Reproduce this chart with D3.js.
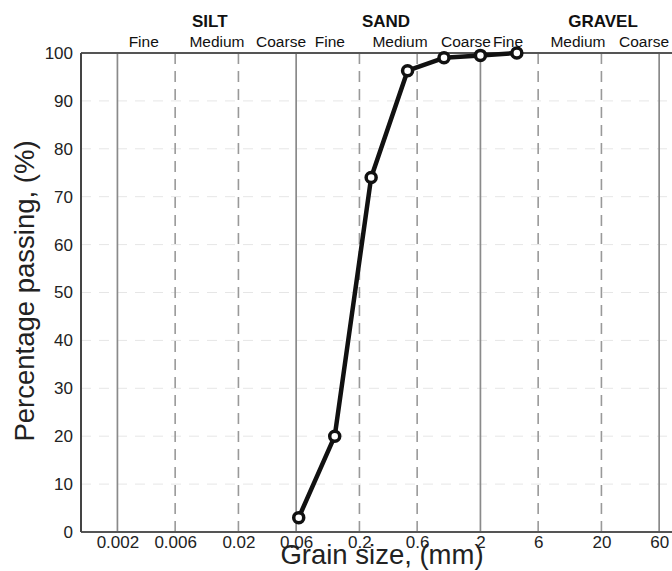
<!DOCTYPE html>
<html><head><meta charset="utf-8">
<script src="https://cdn.jsdelivr.net/npm/d3@7"></script>
<style>
html,body{margin:0;padding:0;background:#fff;}
svg{display:block;font-family:"Liberation Sans",Arial,Helvetica,sans-serif;}
</style></head>
<body>
<svg id="chart" width="672" height="571"></svg>
<script>
// ---- data ----
const grainSize = [0.063, 0.125, 0.25, 0.5, 1, 2, 4];        // mm
const percentPassing = [3, 20, 74, 96.3, 99, 99.5, 100];      // %
const solidGridValues = [0.002, 0.06, 2, 60];
const dashedGridValues = [0.006, 0.02, 0.2, 0.6, 6, 20];
const xTickValues = [0.002, 0.006, 0.02, 0.06, 0.2, 0.6, 2, 6, 20, 60];
const xTickLabels = ["0.002", "0.006", "0.02", "0.06", "0.2", "0.6", "2", "6", "20", "60"];
const yTickValues = [0, 10, 20, 30, 40, 50, 60, 70, 80, 90, 100];
const groupNames = ["SILT", "SAND", "GRAVEL"];
const subNames = ["Fine", "Medium", "Coarse", "Fine", "Medium", "Coarse", "Fine", "Medium", "Coarse"];
// label anchor positions (grain size units, layout only)
const groupLabelAt = [0.0116, 0.332, 20.6];
const subLabelAt = [0.0033, 0.0133, 0.045, 0.114, 0.433, 1.52, 3.38, 12.8, 45];

// ---- layout ----
const svg = d3.select("#chart");
const pLeft = 81, pRight = 686, pTop = 53, pBottom = 532;
const x = d3.scaleLog().domain([0.001, 100]).range([pLeft, pRight]);
const y = d3.scaleLinear().domain([0, 100]).range([pBottom, pTop]);

// horizontal faint grid
svg.append("g").selectAll("line").data(yTickValues.filter(v => v > 0 && v < 100)).join("line")
  .attr("x1", pLeft).attr("x2", 672).attr("y1", d => y(d)).attr("y2", d => y(d))
  .attr("stroke", "#e6e6e6").attr("stroke-width", 1).attr("stroke-dasharray", "10,8");

// vertical grid
svg.append("g").selectAll("line").data(solidGridValues).join("line")
  .attr("x1", d => x(d)).attr("x2", d => x(d)).attr("y1", pTop).attr("y2", pBottom)
  .attr("stroke", "#8a8a8a").attr("stroke-width", 1.7);
svg.append("g").selectAll("line").data(dashedGridValues).join("line")
  .attr("x1", d => x(d)).attr("x2", d => x(d)).attr("y1", pTop).attr("y2", pBottom)
  .attr("stroke", "#999").attr("stroke-width", 1.6).attr("stroke-dasharray", "11,7");

// frame lines
svg.append("line").attr("x1", pLeft).attr("x2", 672).attr("y1", pTop).attr("y2", pTop)
  .attr("stroke", "#555").attr("stroke-width", 1.8);
svg.append("line").attr("x1", pLeft).attr("x2", 672).attr("y1", pBottom).attr("y2", pBottom)
  .attr("stroke", "#555").attr("stroke-width", 1.8);
svg.append("line").attr("x1", pLeft).attr("x2", pLeft).attr("y1", pTop).attr("y2", pBottom)
  .attr("stroke", "#444").attr("stroke-width", 2);

// x axis
const xAxis = d3.axisBottom(x).tickValues(xTickValues)
  .tickFormat((d, i) => xTickLabels[i]).tickSize(0).tickPadding(4);
const gx = svg.append("g").attr("transform", `translate(0,${pBottom})`).call(xAxis);
gx.select(".domain").remove();
gx.selectAll("text").attr("font-size", 17).attr("fill", "#222")
  .attr("font-family", "Liberation Sans, Arial, sans-serif").attr("dy", "0.72em");

// y axis
const yAxis = d3.axisLeft(y).tickValues(yTickValues).tickSize(0).tickPadding(8);
const gy = svg.append("g").attr("transform", `translate(${pLeft},0)`).call(yAxis);
gy.select(".domain").remove();
gy.selectAll("text").attr("font-size", 17).attr("fill", "#222")
  .attr("font-family", "Liberation Sans, Arial, sans-serif");

// group labels
svg.append("g").selectAll("text").data(groupNames).join("text")
  .attr("x", (d, i) => x(groupLabelAt[i])).attr("y", 27)
  .attr("text-anchor", "middle").attr("font-size", 17).attr("font-weight", "bold")
  .attr("fill", "#111").text(d => d);
svg.append("g").selectAll("text").data(subNames).join("text")
  .attr("x", (d, i) => x(subLabelAt[i])).attr("y", 47)
  .attr("text-anchor", "middle").attr("font-size", 15.5)
  .attr("fill", "#111").text(d => d);

// curve
svg.append("path").datum(grainSize.map((g, i) => [g, percentPassing[i]]))
  .attr("fill", "none").attr("stroke", "#111").attr("stroke-width", 4.5)
  .attr("stroke-linejoin", "round")
  .attr("d", d3.line().x(d => x(d[0])).y(d => y(d[1])));
svg.append("g").selectAll("circle").data(grainSize).join("circle")
  .attr("cx", d => x(d)).attr("cy", (d, i) => y(percentPassing[i])).attr("r", 5)
  .attr("fill", "#fff").attr("stroke", "#111").attr("stroke-width", 3.5);

// axis titles
svg.append("text").attr("x", 382).attr("y", 564)
  .attr("text-anchor", "middle").attr("font-size", 27.5).attr("fill", "#222")
  .text("Grain size, (mm)");
svg.append("text").attr("transform", "translate(34,291) rotate(-90)")
  .attr("text-anchor", "middle").attr("font-size", 27.5).attr("fill", "#222")
  .text("Percentage passing, (%)");
</script>
</body></html>
